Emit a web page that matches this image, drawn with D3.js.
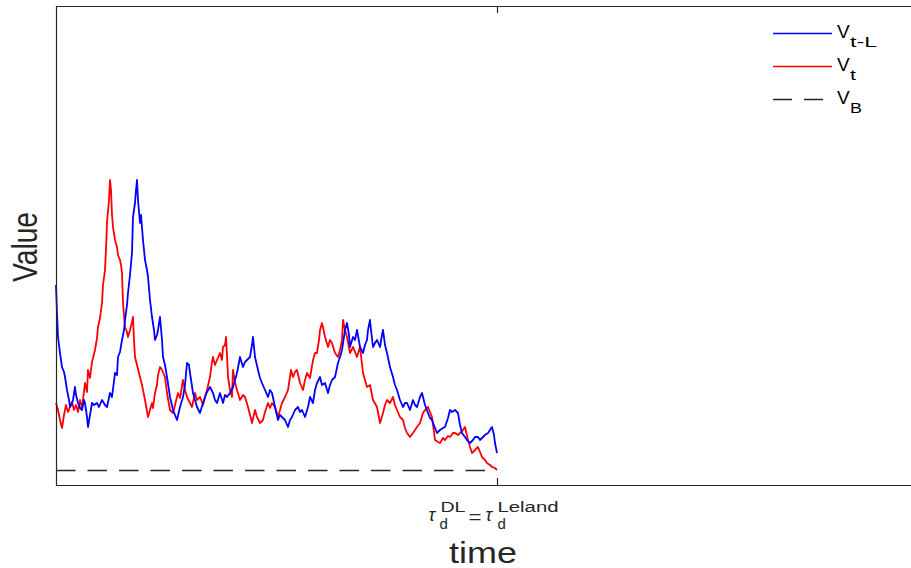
<!DOCTYPE html>
<html>
<head>
<meta charset="utf-8">
<script src="https://cdn.jsdelivr.net/npm/d3@7"></script>
<style>
  body { margin: 0; background: #fff; }
  svg { display: block; font-family: "Liberation Sans", Helvetica, Arial, sans-serif; }
</style>
</head>
<body>
<div id="vis"><svg></svg></div>
<script>
// V_t (red) — time / value pairs
const redTime = [0,2,4,6,8,10,12,14,16,18,20,22,24,26,29,31,32,34,36,39,41,42,44,46,47,49,50,51,53,54,55,56,57,59,61,62,64,65,66,67,69,71,72,74,76,77,78,79,81,84,86,89,92,94,96,97,99,101,102,104,106,109,111,114,117,119,122,124,127,129,131,134,136,139,141,144,147,149,151,154,156,157,159,161,164,166,167,169,170,171,172,174,176,177,179,181,184,187,189,192,194,196,199,201,204,207,209,212,214,216,219,222,224,226,229,232,235,237,239,241,244,247,249,251,254,257,259,261,263,264,266,268,269,272,274,276,279,282,284,286,287,289,291,294,297,299,301,304,307,309,311,314,317,321,324,327,329,331,334,337,339,341,344,347,349,351,354,357,359,361,364,367,369,372,374,376,379,382,384,387,389,392,394,397,399,402,404,407,409,412,414,416,419,422,424,426,429,431,434,436,439,441];
const redValue = [82,75,65,57,70,80,73,78,83,75,80,73,85,77,102,93,115,107,123,135,147,158,167,182,200,215,235,263,285,305,295,270,258,245,238,230,225,220,212,182,158,153,148,155,163,168,145,128,120,108,100,85,68,75,82,77,92,100,110,118,115,108,92,75,72,80,92,87,105,95,88,82,78,92,85,88,80,88,95,108,123,128,120,125,132,125,138,140,148,130,108,95,88,115,103,95,85,90,88,78,70,62,75,68,62,65,73,82,77,82,78,68,75,82,88,95,115,108,113,115,102,95,105,112,107,125,132,132,145,155,162,153,148,138,145,142,132,128,135,145,165,155,148,132,138,133,128,138,112,105,98,100,85,78,62,72,80,85,82,88,80,75,68,65,57,52,48,52,55,58,62,72,75,78,73,68,45,43,42,47,45,49,48,52,52,50,52,55,58,45,38,32,35,38,33,28,25,22,20,18,17,15];

// V_{t-L} (blue)
const blueTime = [0,1,2,4,6,8,9,11,13,14,16,17,19,20,22,24,26,28,29,31,32,34,36,38,41,43,46,49,51,54,56,59,61,62,64,66,68,69,71,72,74,76,77,78,79,80,81,82,84,85,87,89,91,92,94,96,98,99,101,102,104,106,107,109,111,114,117,119,121,124,127,129,131,133,134,137,139,141,144,147,149,151,154,157,159,161,164,167,169,171,174,177,179,181,184,187,189,191,194,196,197,199,202,204,206,209,212,214,216,219,222,224,226,229,232,234,236,239,242,244,246,249,252,254,257,259,261,264,266,269,272,274,276,279,282,284,286,289,291,293,294,297,299,301,304,307,309,311,312,314,315,317,319,321,324,326,327,329,331,334,337,339,341,344,347,349,351,354,357,359,361,364,366,369,372,374,376,379,381,384,387,389,392,394,396,399,402,404,406,409,411,414,417,419,422,424,427,429,432,434,436,438,439,441];
const blueValue = [200,172,148,132,118,113,108,95,85,78,82,85,98,90,82,77,75,85,82,68,58,70,82,80,82,78,85,80,78,92,88,112,110,128,133,145,155,165,180,192,210,232,268,275,282,295,305,285,262,270,245,225,215,208,185,168,155,145,150,155,168,145,128,120,108,88,75,70,65,78,88,100,122,120,112,92,85,78,72,82,88,93,98,92,85,82,92,82,90,88,92,98,105,112,128,118,123,125,128,140,148,128,115,107,102,95,88,95,92,78,65,70,68,65,58,65,68,75,78,73,75,68,78,88,82,95,102,108,100,102,92,100,105,108,122,128,135,155,162,150,138,148,145,155,138,132,140,145,155,165,155,138,142,145,138,150,155,140,132,118,108,100,95,85,78,82,82,75,85,80,78,88,92,80,72,67,65,57,52,55,57,58,67,75,73,75,72,60,52,48,45,42,45,48,48,45,48,50,52,55,58,50,42,32];

// V_B (default barrier) and the default time
const barrierValue = 15;
const defaultTime = 441;
const timeMax = 854;
const valueMax = 479;

const legendItems = [
  {main: "V", sub: "t-L", subLen: 27, color: "#0000ff", dash: null},
  {main: "V", sub: "t", subLen: 6, color: "#ff0000", dash: null},
  {main: "V", sub: "B", subLen: 12, color: "#262626", dash: "19,12"}
];

const w = 911, h = 568;
const margin = {top: 6, right: 1, bottom: 83, left: 56};

const svg = d3.select("#vis").select("svg")
  .attr("width", w)
  .attr("height", h);

const x = d3.scaleLinear().domain([0, timeMax]).range([margin.left, w - margin.right]);
const y = d3.scaleLinear().domain([0, valueMax]).range([h - margin.bottom, margin.top]);

const line = d3.line().x(d => x(d[0])).y(d => y(d[1]));

const redData = redTime.map((t, i) => [t, redValue[i]]);
const blueData = blueTime.map((t, i) => [t, blueValue[i]]);

// dashed barrier
svg.append("path")
  .datum([[0, barrierValue], [defaultTime, barrierValue]])
  .attr("d", line)
  .attr("transform", "translate(0,0.5)")
  .attr("fill", "none")
  .attr("stroke", "#262626")
  .attr("stroke-width", 1.3)
  .attr("stroke-dasharray", "19.5,12");

svg.append("path")
  .datum(redData)
  .attr("d", line)
  .attr("fill", "none")
  .attr("stroke", "#ff0000")
  .attr("stroke-width", 1.8)
  .attr("stroke-linejoin", "round");

svg.append("path")
  .datum(blueData)
  .attr("d", line)
  .attr("fill", "none")
  .attr("stroke", "#0000ff")
  .attr("stroke-width", 1.8)
  .attr("stroke-linejoin", "round");

// axes box (MATLAB style, right edge off the picture)
const x0 = x(0), y0 = y(0), y1 = y(valueMax);
svg.append("path")
  .attr("d", `M${w + 5},${Math.round(y1) + 0.5}H${x0 + 0.5}V${Math.round(y0) + 0.5}H${w + 5}`)
  .attr("fill", "none")
  .attr("stroke", "#262626")
  .attr("stroke-width", 1.2);

// tick at the default time, bottom and top
const xt = Math.round(x(defaultTime)) + 0.5;
svg.append("line").attr("x1", xt).attr("x2", xt).attr("y1", y0).attr("y2", y0 - 7)
  .attr("stroke", "#262626").attr("stroke-width", 1.2);
svg.append("line").attr("x1", xt).attr("x2", xt).attr("y1", y1).attr("y2", y1 + 7)
  .attr("stroke", "#262626").attr("stroke-width", 1.2);

// tick label  tau_d^DL = tau_d^Leland, pieces placed around the tick
const tickParts = [
  {text: "τ", dx: -69, base: 521, size: 18, italic: true, len: null},
  {text: "DL", dx: -57, base: 512, size: 14, italic: false, len: 25},
  {text: "d", dx: -58, base: 529, size: 15, italic: false, len: null},
  {text: "=", dx: -29, base: 523, size: 18, italic: false, len: 13},
  {text: "τ", dx: -12, base: 521, size: 18, italic: true, len: null},
  {text: "Leland", dx: 0, base: 512, size: 14, italic: false, len: 61},
  {text: "d", dx: 0, base: 529, size: 15, italic: false, len: null}
];
const tl = svg.append("g").attr("fill", "#262626");
tickParts.forEach(p => {
  const t = tl.append("text")
    .attr("x", xt + p.dx)
    .attr("y", p.base)
    .attr("font-size", p.size)
    .attr("font-style", p.italic ? "italic" : null)
    .text(p.text);
  if (p.len) t.attr("textLength", p.len).attr("lengthAdjust", "spacingAndGlyphs");
});

// axis titles
svg.append("text")
  .attr("x", 483).attr("y", 563)
  .attr("text-anchor", "middle")
  .attr("fill", "#262626")
  .attr("font-size", 30)
  .attr("textLength", 68)
  .attr("lengthAdjust", "spacingAndGlyphs")
  .text("time");

svg.append("text")
  .attr("transform", "translate(37,247) rotate(-90)")
  .attr("text-anchor", "middle")
  .attr("fill", "#262626")
  .attr("font-size", 35)
  .attr("textLength", 70)
  .attr("lengthAdjust", "spacingAndGlyphs")
  .text("Value");

// legend
const legend = svg.append("g").attr("transform", "translate(773,33)");
legendItems.forEach((d, i) => {
  const g = legend.append("g").attr("transform", `translate(0,${i * 33})`);
  g.append("line")
    .attr("x1", 0).attr("x2", 59).attr("y1", 0.5).attr("y2", 0.5)
    .attr("stroke", d.color)
    .attr("stroke-width", 1.4)
    .attr("stroke-dasharray", d.dash);
  g.append("text")
    .attr("x", 64).attr("y", 5)
    .attr("fill", "#000")
    .attr("font-size", 19)
    .text(d.main);
  g.append("text")
    .attr("x", 77).attr("y", 14)
    .attr("fill", "#000")
    .attr("font-size", 14)
    .attr("textLength", d.subLen)
    .attr("lengthAdjust", "spacingAndGlyphs")
    .text(d.sub);
});
</script>
</body>
</html>
